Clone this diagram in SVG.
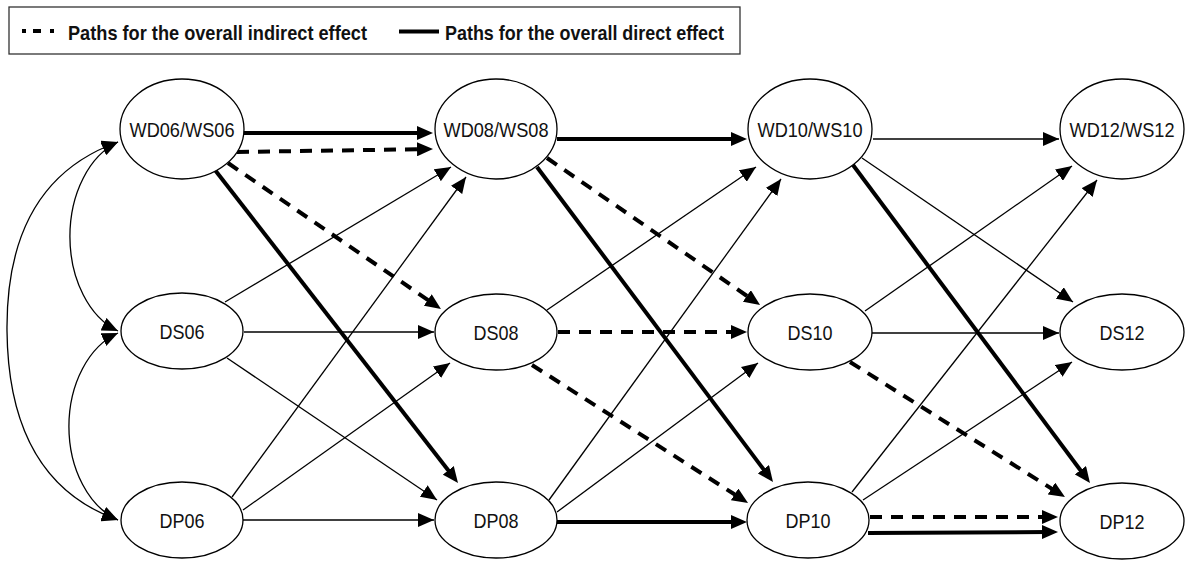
<svg xmlns="http://www.w3.org/2000/svg" width="1189" height="564" viewBox="0 0 1189 564">
<defs>
<style>
.node ellipse{fill:#fff;stroke:#000;stroke-width:1.3}
.node text{font-family:"Liberation Sans",Arial,sans-serif;font-size:21px;fill:#111;text-anchor:middle}
.thin{stroke:#000;stroke-width:1.3;fill:none;marker-end:url(#ah)}
.thick{stroke:#000;stroke-width:4;fill:none;marker-end:url(#ahT)}
.dash{stroke:#000;stroke-width:4;stroke-dasharray:12 9;fill:none;marker-end:url(#ahT)}
.curve{stroke:#000;stroke-width:1.3;fill:none;marker-start:url(#ahC);marker-end:url(#ahC)}
.leg{font-family:"Liberation Sans",Arial,sans-serif;font-size:21px;font-weight:bold;fill:#111}
</style>
<marker id="ah" markerUnits="userSpaceOnUse" markerWidth="16" markerHeight="14" refX="16" refY="7" orient="auto"><path d="M0,0 L16,7 L0,14 z" fill="#000"/></marker>
<marker id="ahT" markerUnits="userSpaceOnUse" markerWidth="16" markerHeight="14" refX="6" refY="7" orient="auto"><path d="M0,0 L16,7 L0,14 z" fill="#000"/></marker>
<marker id="ahC" markerUnits="userSpaceOnUse" markerWidth="16" markerHeight="14" refX="16" refY="7" orient="auto-start-reverse"><path d="M0,0 L16,7 L0,14 z" fill="#000"/></marker>
</defs>
<rect width="1189" height="564" fill="#fff"/>
<g id="legend">
<rect x="9" y="7" width="731" height="47" fill="none" stroke="#333" stroke-width="1.3"/>
<line x1="22" y1="31" x2="54" y2="31" stroke="#000" stroke-width="4" stroke-dasharray="4 7 8 9 4"/>
<text class="leg" x="68" y="40" textLength="299" lengthAdjust="spacingAndGlyphs">Paths for the overall indirect effect</text>
<line x1="399" y1="31.5" x2="439" y2="31.5" stroke="#000" stroke-width="4"/>
<text class="leg" x="445" y="40" textLength="279" lengthAdjust="spacingAndGlyphs">Paths for the overall direct effect</text>
</g>
<g id="connectors">
<path class="curve" d="M118,142 A70,99.5 0 0 0 118,331"/>
<path class="curve" d="M118,333 A71,98.3 0 0 0 118,520"/>
<path class="curve" d="M118,142 C45,168 6,230 7,331 S45,494 118,520"/>
<line class="thick" x1="243" y1="133" x2="423" y2="133"/>
<line class="dash" x1="237" y1="152" x2="423" y2="149.2"/>
<line class="dash" x1="228" y1="163" x2="432.7" y2="303.3"/>
<line class="thick" x1="215" y1="170" x2="451.9" y2="475.1"/>
<line class="thin" x1="225" y1="302" x2="451" y2="167"/>
<line class="thin" x1="244" y1="332" x2="434" y2="332"/>
<line class="thin" x1="227" y1="358" x2="437" y2="500"/>
<line class="thin" x1="232" y1="497" x2="466" y2="177"/>
<line class="thin" x1="243" y1="510" x2="450" y2="363"/>
<line class="thin" x1="243" y1="520" x2="434" y2="520"/>
<line class="thick" x1="557" y1="139" x2="737" y2="139"/>
<line class="dash" x1="547" y1="158" x2="751.8" y2="299.3"/>
<line class="thick" x1="537" y1="167" x2="767" y2="474"/>
<line class="thin" x1="547" y1="310" x2="756" y2="167"/>
<line class="dash" x1="558" y1="332" x2="737" y2="332"/>
<line class="dash" x1="532" y1="365" x2="739.6" y2="497.6"/>
<line class="thin" x1="549" y1="500" x2="781" y2="179"/>
<line class="thin" x1="557" y1="512" x2="758" y2="363"/>
<line class="thick" x1="557" y1="522" x2="737" y2="522"/>
<line class="thin" x1="873" y1="139" x2="1059" y2="139"/>
<line class="thin" x1="862" y1="158" x2="1073" y2="302"/>
<line class="thick" x1="853" y1="165" x2="1084" y2="475"/>
<line class="thin" x1="865" y1="311" x2="1072" y2="166"/>
<line class="thin" x1="872" y1="333" x2="1059" y2="333"/>
<line class="dash" x1="850" y1="362" x2="1056.5" y2="491.7"/>
<line class="thin" x1="852" y1="492" x2="1097" y2="180"/>
<line class="thin" x1="863" y1="500" x2="1072" y2="362"/>
<line class="dash" x1="870" y1="517" x2="1048" y2="517"/>
<line class="thick" x1="868" y1="533" x2="1048" y2="532"/>
</g>
<g id="WD06" class="node"><ellipse cx="182" cy="129" rx="62" ry="50"/><text x="182" y="136.5" textLength="105" lengthAdjust="spacingAndGlyphs">WD06/WS06</text></g>
<g id="WD08" class="node"><ellipse cx="496" cy="129" rx="61" ry="50"/><text x="496" y="136.5" textLength="105" lengthAdjust="spacingAndGlyphs">WD08/WS08</text></g>
<g id="WD10" class="node"><ellipse cx="810" cy="129" rx="62" ry="50"/><text x="810" y="136.5" textLength="105" lengthAdjust="spacingAndGlyphs">WD10/WS10</text></g>
<g id="WD12" class="node"><ellipse cx="1122" cy="129" rx="62" ry="50"/><text x="1122" y="136.5" textLength="105" lengthAdjust="spacingAndGlyphs">WD12/WS12</text></g>
<g id="DS06" class="node"><ellipse cx="182" cy="331" rx="61" ry="38"/><text x="182" y="338.5" textLength="45" lengthAdjust="spacingAndGlyphs">DS06</text></g>
<g id="DS08" class="node"><ellipse cx="496" cy="332" rx="61" ry="38"/><text x="496" y="339.5" textLength="45" lengthAdjust="spacingAndGlyphs">DS08</text></g>
<g id="DS10" class="node"><ellipse cx="810" cy="332" rx="62" ry="38"/><text x="810" y="339.5" textLength="45" lengthAdjust="spacingAndGlyphs">DS10</text></g>
<g id="DS12" class="node"><ellipse cx="1122" cy="332" rx="62" ry="38"/><text x="1122" y="339.5" textLength="45" lengthAdjust="spacingAndGlyphs">DS12</text></g>
<g id="DP06" class="node"><ellipse cx="182" cy="520" rx="61" ry="38"/><text x="182" y="527.5" textLength="45" lengthAdjust="spacingAndGlyphs">DP06</text></g>
<g id="DP08" class="node"><ellipse cx="496" cy="520" rx="61" ry="38"/><text x="496" y="527.5" textLength="45" lengthAdjust="spacingAndGlyphs">DP08</text></g>
<g id="DP10" class="node"><ellipse cx="808" cy="520" rx="61" ry="38"/><text x="808" y="527.5" textLength="45" lengthAdjust="spacingAndGlyphs">DP10</text></g>
<g id="DP12" class="node"><ellipse cx="1122" cy="521" rx="62" ry="38"/><text x="1122" y="528.5" textLength="45" lengthAdjust="spacingAndGlyphs">DP12</text></g>
</svg>
